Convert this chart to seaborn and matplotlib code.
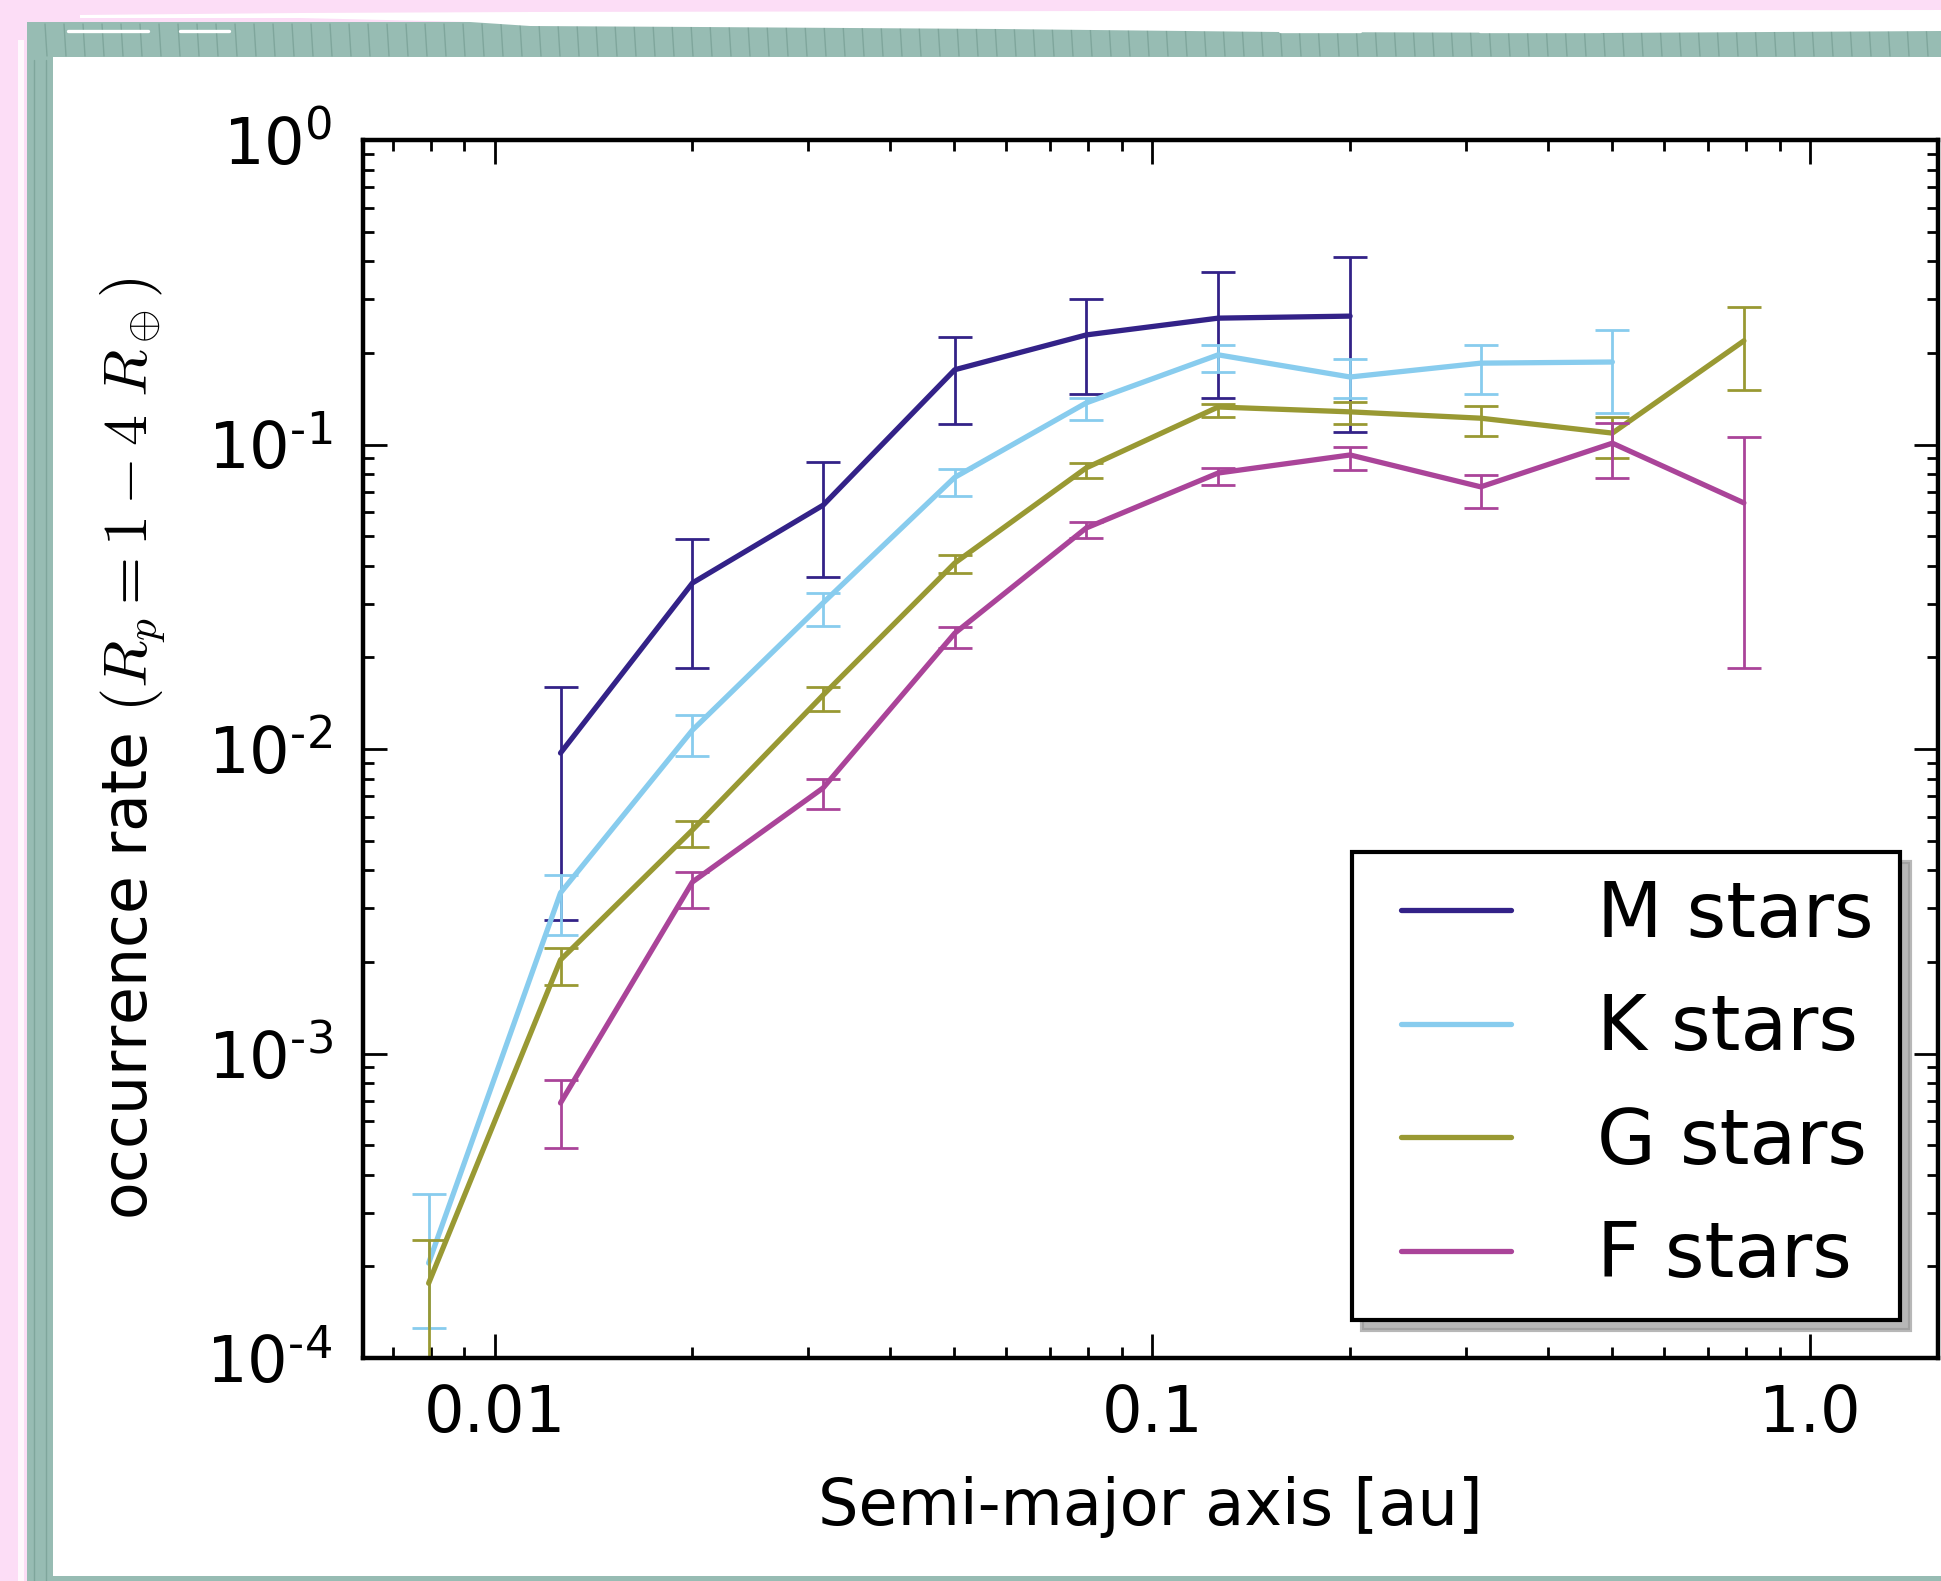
import numpy as np
import pandas as pd
import matplotlib
matplotlib.use("Agg")
import matplotlib.pyplot as plt
import seaborn as sns
from matplotlib.patches import Rectangle, Polygon
from matplotlib.lines import Line2D
from matplotlib.legend_handler import HandlerLine2D
from matplotlib.ticker import LogLocator, NullFormatter, FixedLocator, FuncFormatter

# ---------------------------------------------------------------- data
# occurrence rate of 1-4 Earth-radius planets per semi-major-axis bin [au]
m_a    = [0.0126, 0.0200, 0.0316, 0.0501, 0.0794, 0.126, 0.200]
m_rate = [0.0097, 0.0351, 0.0632, 0.176, 0.229, 0.260, 0.264]
m_lo   = [0.00274, 0.0185, 0.0367, 0.117, 0.146, 0.142, 0.110]
m_hi   = [0.0160, 0.0490, 0.0875, 0.225, 0.301, 0.368, 0.413]

k_a    = [0.00794, 0.0126, 0.0200, 0.0316, 0.0501, 0.0794, 0.126, 0.200, 0.316, 0.501]
k_rate = [2.05e-4, 3.37e-3, 0.01154, 0.0302, 0.078, 0.137, 0.197, 0.1666, 0.185, 0.1866]
k_lo   = [1.25e-4, 2.45e-3, 9.48e-3, 0.0254, 0.068, 0.120, 0.173, 0.142, 0.1465, 0.127]
k_hi   = [3.46e-4, 3.85e-3, 0.01294, 0.0325, 0.083, 0.142, 0.212, 0.191, 0.212, 0.2377]

g_a    = [0.00794, 0.0126, 0.0200, 0.0316, 0.0501, 0.0794, 0.126, 0.200, 0.316, 0.501, 0.794]
g_rate = [1.76e-4, 2.03e-3, 5.42e-3, 0.01504, 0.0408, 0.0838, 0.1328, 0.128, 0.122, 0.109, 0.219]
g_lo   = [1.0e-4, 1.68e-3, 4.77e-3, 0.0133, 0.0379, 0.0776, 0.1233, 0.1167, 0.1067, 0.0903, 0.151]
g_hi   = [2.44e-4, 2.22e-3, 5.80e-3, 0.0160, 0.0434, 0.0870, 0.1360, 0.138, 0.1337, 0.1233, 0.283]

f_a    = [0.0126, 0.0200, 0.0316, 0.0501, 0.0794, 0.126, 0.200, 0.316, 0.501, 0.794]
f_rate = [6.88e-4, 3.66e-3, 7.45e-3, 0.0240, 0.0532, 0.0806, 0.0924, 0.0726, 0.101, 0.0643]
f_lo   = [4.89e-4, 3.00e-3, 6.35e-3, 0.0215, 0.0493, 0.0736, 0.0824, 0.0618, 0.0776, 0.01845]
f_hi   = [8.20e-4, 3.95e-3, 7.96e-3, 0.0252, 0.0556, 0.0838, 0.0982, 0.0794, 0.1177, 0.106]

star_types = ["M stars", "K stars", "G stars", "F stars"]
star_colors = ["#332288", "#88CCEE", "#999933", "#AA4499"]

x_ticks = [0.01, 0.1, 1.0]
x_tick_labels = ["0.01", "0.1", "1.0"]
y_ticks = [1e-4, 1e-3, 1e-2, 1e-1, 1e0]

series = {
    "M stars": (m_a, m_rate, m_lo, m_hi),
    "K stars": (k_a, k_rate, k_lo, k_hi),
    "G stars": (g_a, g_rate, g_lo, g_hi),
    "F stars": (f_a, f_rate, f_lo, f_hi),
}
frames = []
for name, (a, r, lo, hi) in series.items():
    frames.append(pd.DataFrame({"a": a, "rate": r, "lo": lo, "hi": hi, "type": name}))
df = pd.concat(frames, ignore_index=True)

# ---------------------------------------------------------------- style
sns.set_style("white")
plt.rcParams.update({
    "font.family": ["DejaVu Sans"],
    "mathtext.fontset": "dejavusans",
    "text.color": "black",
    "axes.labelcolor": "black",
    "xtick.labelcolor": "black",
    "ytick.labelcolor": "black",
    "xtick.direction": "in",
    "ytick.direction": "in",
    "xtick.top": True,
    "ytick.right": True,
    "xtick.bottom": True,
    "ytick.left": True,
    "xtick.major.size": 4.3,
    "ytick.major.size": 4.3,
    "xtick.minor.size": 2.0,
    "ytick.minor.size": 2.0,
    "xtick.major.width": 0.5,
    "ytick.major.width": 0.5,
    "xtick.minor.width": 0.5,
    "ytick.minor.width": 0.5,
    "xtick.color": "black",
    "ytick.color": "black",
    "axes.edgecolor": "black",
    "axes.linewidth": 0.8,
})

W, H, DPI = 1941, 1581, 400
fig = plt.figure(figsize=(W / DPI, H / DPI), dpi=DPI)

PINK = "#FCDDF6"
TEAL = "#97BCB3"
GRAIN = "#7FA69C"
fig.patch.set_facecolor(PINK)


def fx(x):
    return x / W


def fy(y):
    return 1 - y / H


def px_rect(x0, y0, x1, y1, **kw):
    return Rectangle((fx(x0), fy(y1)), (x1 - x0) / W, (y1 - y0) / H,
                     transform=fig.transFigure, **kw)


# decorative frame behind the axes: teal border, brushed white edge, white card
fig.patches.append(px_rect(18, 40, 24, H, facecolor="white", edgecolor="none",
                           alpha=0.8, zorder=-10))
fig.patches.append(px_rect(27, 22, W, H, facecolor=TEAL, edgecolor="none", zorder=-9))
for xv in np.arange(45, W, 19):
    fig.add_artist(Line2D([fx(xv), fx(xv + 2)], [fy(24), fy(56)],
                          transform=fig.transFigure, color=GRAIN, lw=0.25, zorder=-8))
for xv in (34, 46):
    fig.add_artist(Line2D([fx(xv), fx(xv)], [fy(60), 0],
                          transform=fig.transFigure, color=GRAIN, lw=0.25, zorder=-8))
brush = [(80, 15), (300, 13), (530, 12), (1100, 11), (W, 10), (W, 31), (1600, 33),
         (1280, 32), (1000, 29), (700, 27), (530, 26), (470, 22), (300, 18), (80, 18)]
fig.patches.append(Polygon([(fx(x), fy(y)) for x, y in brush], closed=True,
                           transform=fig.transFigure, facecolor="white",
                           edgecolor="none", zorder=-7))
for x0, x1 in ((68, 148), (180, 229), (1280, 1360), (1480, 1600)):
    fig.add_artist(Line2D([fx(x0), fx(x1)], [fy(31), fy(31)], transform=fig.transFigure,
                          color="white", lw=0.6, zorder=-7))
fig.patches.append(px_rect(53, 57, W, 1576, facecolor="white", edgecolor="none",
                           zorder=-6))

# ---------------------------------------------------------------- axes
ax = fig.add_axes([363 / W, 1 - 1358 / H, (1938 - 363) / W, (1358 - 140) / H])
ax.set_facecolor("white")
ax.set_xscale("log")
ax.set_yscale("log")

handles = []
for name, color in zip(star_types, star_colors):
    sub = df[df["type"] == name]
    sns.lineplot(data=sub, x="a", y="rate", ax=ax, color=color, lw=0.95,
                 errorbar=None, legend=False)
    handles.append(Line2D([], [], color=color, lw=0.95))
    yerr = np.vstack([sub["rate"] - sub["lo"], sub["hi"] - sub["rate"]])
    ax.errorbar(sub["a"], sub["rate"], yerr=yerr, fmt="none", ecolor=color,
                elinewidth=0.5, capsize=3.0, capthick=0.5)

ax.set_xlim(10 ** -2.2, 10 ** 0.195)
ax.set_ylim(1e-4, 1.0)

ax.xaxis.set_major_locator(FixedLocator(x_ticks))
ax.set_xticklabels(x_tick_labels)
ax.xaxis.set_minor_locator(LogLocator(base=10, subs=np.arange(2, 10)))
ax.xaxis.set_minor_formatter(NullFormatter())

ax.yaxis.set_major_locator(FixedLocator(y_ticks))
ax.yaxis.set_major_formatter(FuncFormatter(
    lambda v, pos: r"$\mathdefault{10^{%s}}$" % ("%d" % round(np.log10(v))).replace("-", "\u2010")))
ax.yaxis.set_minor_locator(LogLocator(base=10, subs=np.arange(2, 10)))
ax.yaxis.set_minor_formatter(NullFormatter())

ax.tick_params(axis="both", which="major", labelsize=11.5, labelcolor="black")
ax.tick_params(axis="x", which="major", pad=4.5)
ax.tick_params(axis="y", which="major", pad=5.5)
for s in ax.spines.values():
    s.set_visible(True)
    s.set_color("black")
    s.set_linewidth(0.8)

ax.set_xlabel("Semi-major axis [au]", fontsize=11.5, labelpad=5.5, color="black")
ylab = ax.set_ylabel(r"occurrence rate $(R_p=1-4\ R_\oplus)$", fontsize=11.1,
                     labelpad=7, color="black")
ylab.set_math_fontfamily("cm")

leg = ax.legend(handles, star_types, loc="lower right", fontsize=13.7,
                frameon=True, fancybox=False,
                shadow={"ox": 1.8, "oy": -1.8, "color": "0.6", "alpha": 0.7},
                edgecolor="black", facecolor="white", framealpha=1.0,
                borderaxespad=0.5, handlelength=1.75, handletextpad=1.12,
                labelspacing=0.52, borderpad=0.35,
                handler_map={Line2D: HandlerLine2D(xpad=0.3)})
leg.get_frame().set_linewidth(0.75)
for t in leg.get_texts():
    t.set_color("black")

fig.savefig("out.png", dpi=DPI, facecolor=fig.get_facecolor())
